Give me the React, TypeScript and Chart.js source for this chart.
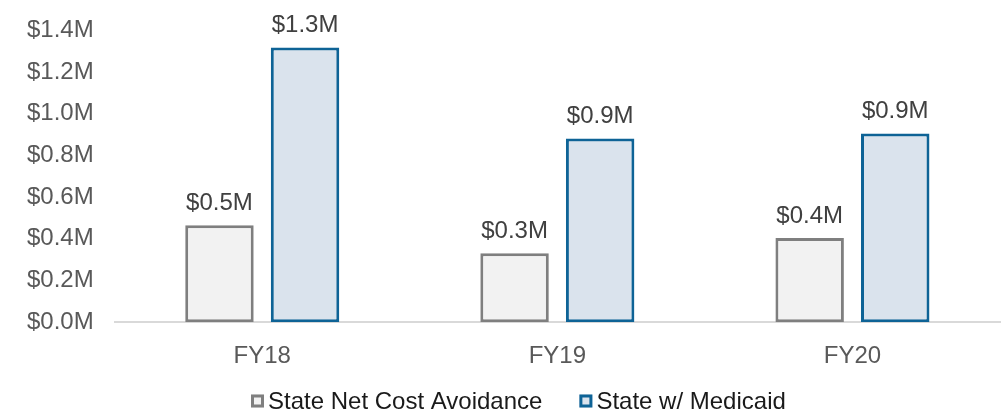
import React, { useEffect, useRef } from "react";
import { Chart, registerables } from "chart.js";

Chart.register(...registerables);

const categories = ["FY18", "FY19", "FY20"];
const netCostAvoidance = [0.465, 0.331, 0.404];
const withMedicaid = [1.318, 0.881, 0.905];
const seriesNames = ["State Net Cost Avoidance", "State w/ Medicaid"];

const FONT_FAMILY = "'Liberation Sans', Arial, sans-serif";
const fmt = (v: number) => "$" + v.toFixed(1) + "M";

const valueLabels = {
  id: "valueLabels",
  afterDatasetsDraw(chart: any) {
    const ctx = chart.ctx;
    ctx.save();
    ctx.font = "24px " + FONT_FAMILY;
    ctx.fillStyle = "#404040";
    ctx.textAlign = "center";
    ctx.textBaseline = "bottom";
    chart.data.datasets.forEach((ds: any, i: number) => {
      const meta = chart.getDatasetMeta(i);
      meta.data.forEach((bar: any, j: number) => {
        ctx.fillText(fmt(ds.data[j]), bar.x, bar.y - 10);
      });
    });
    ctx.restore();
  },
};

const customLegend = {
  id: "customLegend",
  afterDraw(chart: any) {
    const ctx = chart.ctx;
    ctx.save();
    ctx.font = "24px " + FONT_FAMILY;
    ctx.textBaseline = "middle";
    ctx.textAlign = "left";
    const y = chart.height - 11;
    let x = 251;
    chart.data.datasets.forEach((ds: any) => {
      const box = 13;
      ctx.fillStyle = ds.backgroundColor;
      ctx.fillRect(x, y - box / 2, box, box);
      ctx.strokeStyle = ds.borderColor;
      ctx.lineWidth = 3;
      ctx.strokeRect(x + 1.5, y - box / 2 + 1.5, box - 3, box - 3);
      ctx.fillStyle = "#1a1a1a";
      const tx = x + box + 4;
      ctx.fillText(ds.label, tx, y + 1);
      x = tx + ctx.measureText(ds.label).width + 37;
    });
    ctx.restore();
  },
};

export default function App() {
  const ref = useRef<HTMLCanvasElement>(null);
  useEffect(() => {
    if (!ref.current) return;
    const font = { family: FONT_FAMILY, size: 24 };
    const chart = new Chart(ref.current, {
      type: "bar",
      data: {
        labels: categories,
        datasets: [
          {
            label: seriesNames[0],
            data: netCostAvoidance,
            backgroundColor: "#f2f2f2",
            borderColor: "#7f7f7f",
            borderWidth: 3,
            borderSkipped: false,
            barPercentage: 0.8,
            categoryPercentage: 0.58,
          },
          {
            label: seriesNames[1],
            data: withMedicaid,
            backgroundColor: "#dae3ed",
            borderColor: "#0e6396",
            borderWidth: 3,
            borderSkipped: false,
            barPercentage: 0.8,
            categoryPercentage: 0.58,
          },
        ],
      },
      options: {
        animation: false,
        responsive: false,
        layout: { padding: { top: 16, right: 7, left: 14, bottom: 29 } },
        plugins: {
          tooltip: { enabled: false },
          legend: { display: false },
        },
        scales: {
          x: {
            grid: { display: false },
            border: { display: true, color: "#d9d9d9", width: 2 },
            ticks: { font, color: "#595959", padding: 12 },
          },
          y: {
            min: 0,
            max: 1.4,
            grid: { display: false },
            border: { display: false },
            ticks: {
              stepSize: 0.2,
              font,
              color: "#595959",
              padding: 13,
              callback: (v: any) => fmt(Number(v)),
            },
          },
        },
      },
      plugins: [valueLabels, customLegend],
    });
    return () => chart.destroy();
  }, []);
  return (
    <div style={{ position: "fixed", left: 0, top: 0, width: 1007, height: 412, background: "#fff" }}>
      <canvas ref={ref} width={1007} height={409} style={{ position: "absolute", left: 0, top: 3 }} />
    </div>
  );
}
